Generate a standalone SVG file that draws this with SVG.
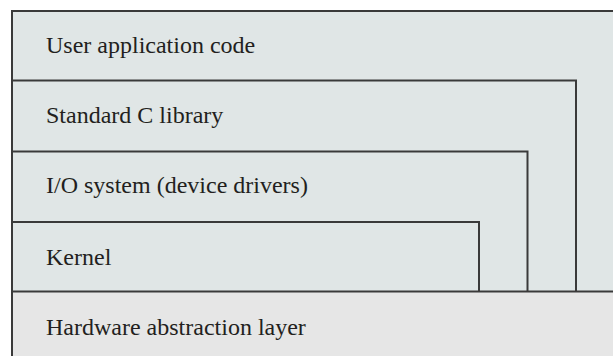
<svg xmlns="http://www.w3.org/2000/svg" width="613" height="356" viewBox="0 0 613 356">
<style>
.f{fill:#e0e6e6;stroke:#3a3a3a;stroke-width:2}
.h{fill:#e6e6e6;stroke:#3a3a3a;stroke-width:2}
text{font-family:"Liberation Serif","Times New Roman",serif;font-size:24px;fill:#231f20}
</style>
<rect width="613" height="356" fill="#ffffff"/>
<g id="user">
<path class="f" d="M12 11 H614 V357 H12 Z"/>
<text x="46" y="53">User application code</text>
</g>
<g id="stdc">
<path class="f" d="M12 80.5 H576 V357 H12 Z"/>
<text x="46" y="123">Standard C library</text>
</g>
<g id="io">
<path class="f" d="M12 151.5 H527.5 V357 H12 Z"/>
<text x="46" y="193">I/O system (device drivers)</text>
</g>
<g id="kernel">
<path class="f" d="M12 222 H479 V357 H12 Z"/>
<text x="46" y="265">Kernel</text>
</g>
<g id="hal">
<path class="h" d="M12 291.5 H614 V357 H12 Z"/>
<text x="46" y="335">Hardware abstraction layer</text>
</g>
</svg>
